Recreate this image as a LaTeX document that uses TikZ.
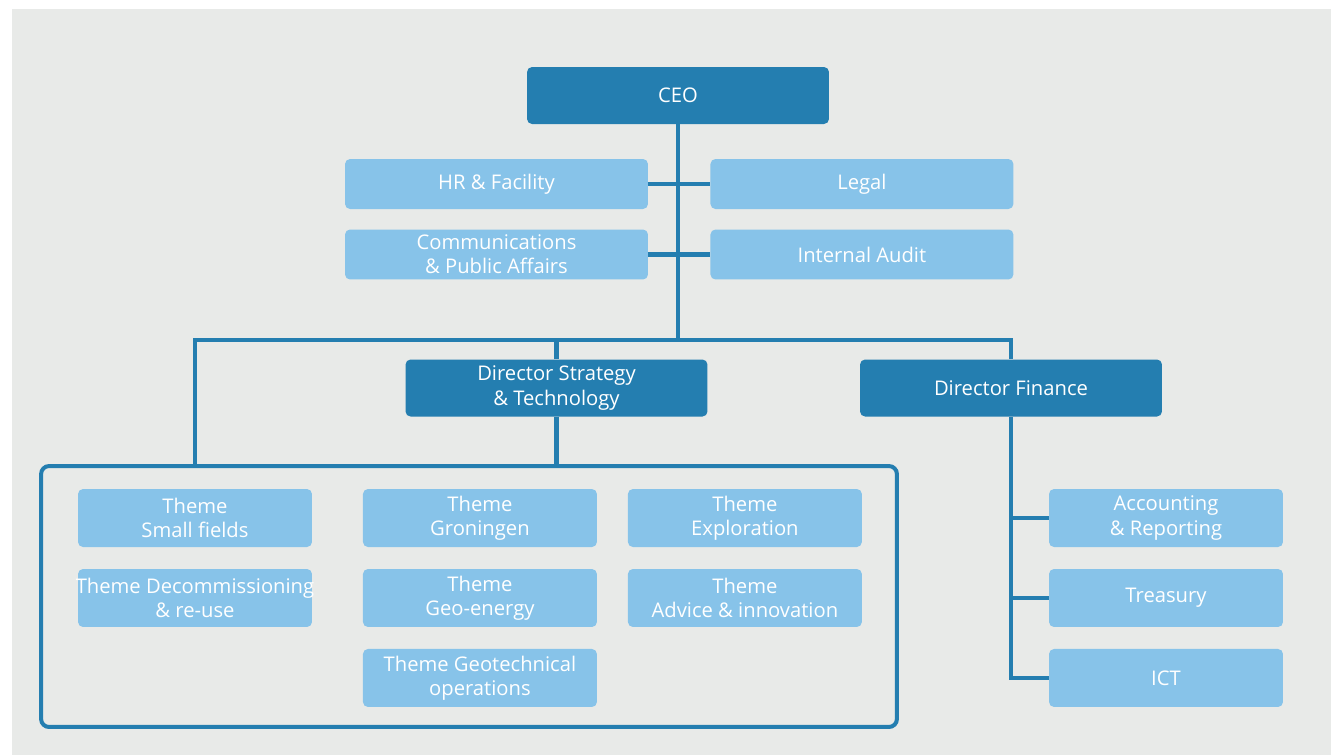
\documentclass[tikz,border=0pt]{standalone}
\usepackage{fontspec}
\setmainfont{Open Sans}
\usetikzlibrary{positioning}

\definecolor{darkblue}{HTML}{247EB0}
\definecolor{lightblue}{HTML}{87C3E9}
\definecolor{pagegray}{HTML}{E8EAE8}

\tikzset{
    unit/.style={rounded corners=0.1cm, align=center, text=white, inner sep=0pt,
        font=\fontsize{11.5}{13.7}\selectfont},
    head/.style={unit, fill=darkblue, minimum width=6.04cm, minimum height=1.14cm},
    staff/.style={unit, fill=lightblue, minimum width=6.06cm, minimum height=1.0cm},
    theme/.style={unit, fill=lightblue, minimum width=4.68cm, minimum height=1.16cm},
    link/.style={draw=darkblue, line width=0.09cm},
    group/.style={draw=darkblue, line width=0.08cm, rounded corners=0.16cm,
        minimum width=17.12cm, minimum height=5.22cm}
}

\begin{document}
\begin{tikzpicture}[x=0.02cm, y=-0.02cm, on grid]

        % page and background
        \useasboundingbox (0,0) rectangle (1331,755);
        \fill[white] (0,0) rectangle (1331,755);
        \fill[pagegray] (12,9) rectangle (1331,755);

        %% NODES
        \node[head] (ceo) at (678,95.5) {CEO};

        % Staff
        \node[staff] (hr) at (496.5,184) {HR \& Facility};
        \node[staff] (legal) [right=7.31cm of hr] {Legal};
        \node[staff] (comms) [below=1.41cm of hr] {Communications\\\& Public Affairs};
        \node[staff] (audit) [right=7.31cm of comms] {Internal Audit};

        % Directors
        \node[head] (dirst) at (556.5,388) {Director Strategy\\\& Technology};
        \node[head] (dirfin) at (1011,388) {Director Finance};

        % Themes
        \node[group] (themes) at (469,596.5) {};
        \node[theme] (tsmall) at (195,518) {Theme\\Small fields};
        \node[theme, inner xsep=-0.1cm] (tdecom) [below=1.6cm of tsmall] {Theme Decommissioning\\\& re-use};
        \node[theme] (tgron) [right=5.7cm of tsmall] {Theme\\Groningen};
        \node[theme] (tgeo) [below=1.6cm of tgron] {Theme\\Geo-energy};
        \node[theme] (tgeotech) [below=1.6cm of tgeo] {Theme Geotechnical\\operations};
        \node[theme] (texpl) [right=5.3cm of tgron] {Theme\\Exploration};
        \node[theme] (tadvice) [below=1.6cm of texpl] {Theme\\Advice \& innovation};

        % Finance
        \node[theme] (acc) at (1166,518) {Accounting\\\& Reporting};
        \node[theme] (treas) [below=1.6cm of acc] {Treasury};
        \node[theme] (ict) [below=1.6cm of treas] {ICT};

        %% LINES
        \coordinate (bus) at (678,340);
        \coordinate (busleft) at (195,340);
        \coordinate (busright) at (1011,340);

        \draw[link] (ceo) -- (bus);
        \draw[link] (hr) -- (legal);
        \draw[link] (comms) -- (audit);
        \draw[link] (themes.north -| busleft) -- (busleft) -- (busright) -- (dirfin);
        \draw[link] (dirst) -- (dirst.north |- bus);
        \draw[link] (dirst) -- (dirst.south |- themes.north);

        % Finance branches
        \draw[link] (dirfin) |- (ict);
        \draw[link] (dirfin.south |- acc) -- (acc);
        \draw[link] (dirfin.south |- treas) -- (treas);

    \end{tikzpicture}
\end{document}
